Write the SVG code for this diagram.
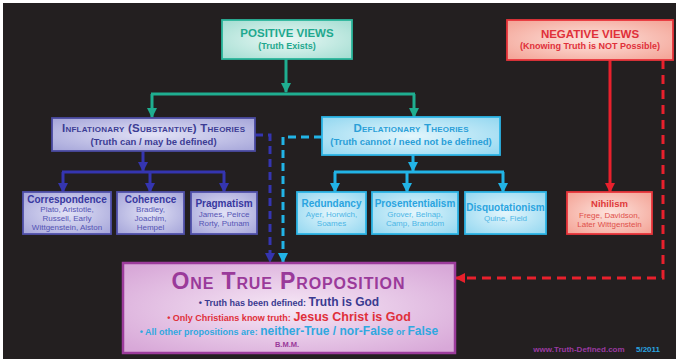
<svg xmlns="http://www.w3.org/2000/svg" width="679" height="362" viewBox="0 0 679 362">
<defs>
<style>
text{font-family:"Liberation Sans",Arial,sans-serif;font-weight:bold;text-anchor:middle}
.sc{font-variant:small-caps}
.nm{font-weight:normal;font-size:8px}
.t10{font-size:10px}
.box{stroke-width:1.8}
.conn{fill:none;stroke-width:3}
</style>
<radialGradient id="gTeal" cx="50%" cy="50%" r="65%"><stop offset="0" stop-color="#eaf8f5"/><stop offset="1" stop-color="#a7dfd4"/></radialGradient>
<radialGradient id="gRed" cx="50%" cy="50%" r="65%"><stop offset="0" stop-color="#fde3dd"/><stop offset="1" stop-color="#f4a699"/></radialGradient>
<radialGradient id="gBlue" cx="50%" cy="50%" r="65%"><stop offset="0" stop-color="#e2e2f6"/><stop offset="1" stop-color="#a9a9db"/></radialGradient>
<radialGradient id="gCyan" cx="50%" cy="50%" r="65%"><stop offset="0" stop-color="#e4f6fc"/><stop offset="1" stop-color="#98d9f1"/></radialGradient>
<radialGradient id="gPink" cx="50%" cy="50%" r="65%"><stop offset="0" stop-color="#f6e8f6"/><stop offset="1" stop-color="#d8a8d8"/></radialGradient>
<marker id="aTeal" markerUnits="userSpaceOnUse" markerWidth="10" markerHeight="10" viewBox="0 0 10 10" refX="9" refY="5" orient="auto"><path d="M0,0L10,5L0,10z" fill="#1fae90"/></marker>
<marker id="aBlue" markerUnits="userSpaceOnUse" markerWidth="10" markerHeight="10" viewBox="0 0 10 10" refX="9" refY="5" orient="auto"><path d="M0,0L10,5L0,10z" fill="#3535b0"/></marker>
<marker id="aCyan" markerUnits="userSpaceOnUse" markerWidth="10" markerHeight="10" viewBox="0 0 10 10" refX="9" refY="5" orient="auto"><path d="M0,0L10,5L0,10z" fill="#22b4e6"/></marker>
<marker id="aRed" markerUnits="userSpaceOnUse" markerWidth="10" markerHeight="10" viewBox="0 0 10 10" refX="9" refY="5" orient="auto"><path d="M0,0L10,5L0,10z" fill="#e8202c"/></marker>
</defs>
<rect x="0" y="0" width="679" height="362" fill="#ffffff"/>
<rect x="3" y="3" width="673" height="356" fill="#231f20"/>

<g id="connectors">
<g stroke="#1fae90" class="conn">
<path d="M286,59V92" marker-end="url(#aTeal)"/>
<path d="M151,94H415"/>
<path d="M152,94V117" marker-end="url(#aTeal)"/>
<path d="M414,94V117" marker-end="url(#aTeal)"/>
</g>
<g stroke="#3535b0" class="conn">
<path d="M143,151V171" marker-end="url(#aBlue)"/>
<path d="M62,172H225"/>
<path d="M63,172V192" marker-end="url(#aBlue)"/>
<path d="M150,172V192" marker-end="url(#aBlue)"/>
<path d="M224,172V192" marker-end="url(#aBlue)"/>
<path d="M255,135H270V262" stroke-dasharray="8,5" marker-end="url(#aBlue)"/>
</g>
<g stroke="#22b4e6" class="conn">
<path d="M413,155V171" marker-end="url(#aCyan)"/>
<path d="M334,172H504"/>
<path d="M335,172V192" marker-end="url(#aCyan)"/>
<path d="M407,172V192" marker-end="url(#aCyan)"/>
<path d="M503,172V192" marker-end="url(#aCyan)"/>
<path d="M322,137H283V262" stroke-dasharray="8,5" marker-end="url(#aCyan)"/>
</g>
<g stroke="#e8202c" class="conn">
<path d="M610,60V192" marker-end="url(#aRed)"/>
<path d="M663,60V278H456" stroke-dasharray="9,6" marker-end="url(#aRed)"/>
</g>
</g>

<g id="positive">
<rect x="222" y="20" width="130" height="39" fill="url(#gTeal)" stroke="#2ab59b" class="box"/>
<text x="287" y="37" font-size="11.5" fill="#1fa88e">POSITIVE VIEWS</text>
<text x="287" y="49" font-size="9" fill="#1fa88e">(Truth Exists)</text>
</g>

<g id="negative">
<rect x="507" y="20" width="166" height="40" fill="url(#gRed)" stroke="#e8343a" class="box"/>
<text x="590" y="38" font-size="11.5" fill="#e0303a">NEGATIVE VIEWS</text>
<text x="590" y="49" font-size="9" fill="#e0303a">(Knowing Truth is NOT Possible)</text>
</g>

<g id="inflationary">
<rect x="52" y="118" width="203" height="33" fill="url(#gBlue)" stroke="#4a4aa0" class="box"/>
<text x="153.5" y="132" font-size="11.5" class="sc" fill="#3c3c94" textLength="183">Inflationary (Substantive) Theories</text>
<text x="153.5" y="145" font-size="9.5" fill="#3c3c94">(Truth can / may be defined)</text>
</g>

<g id="deflationary">
<rect x="322" y="117" width="178" height="38" fill="url(#gCyan)" stroke="#2cb4e6" class="box"/>
<text x="411" y="132" font-size="11.5" class="sc" fill="#2a9fd8" textLength="115">Deflationary Theories</text>
<text x="411" y="145" font-size="9.5" fill="#2a9fd8">(Truth cannot / need not be defined)</text>
</g>

<g id="correspondence">
<rect x="23" y="192" width="88" height="42" fill="url(#gBlue)" stroke="#5050aa" class="box"/>
<text x="67" y="203" class="t10" fill="#3838a0">Correspondence</text>
<text x="67" y="212" class="nm" fill="#5454b4">Plato, Aristotle,</text>
<text x="67" y="221" class="nm" fill="#5454b4">Russell, Early</text>
<text x="67" y="230" class="nm" fill="#5454b4">Wittgenstein, Alston</text>
</g>

<g id="coherence">
<rect x="117" y="192" width="67" height="42" fill="url(#gBlue)" stroke="#5050aa" class="box"/>
<text x="150.5" y="203" class="t10" fill="#3838a0">Coherence</text>
<text x="150.5" y="212" class="nm" fill="#5454b4">Bradley,</text>
<text x="150.5" y="221" class="nm" fill="#5454b4">Joachim,</text>
<text x="150.5" y="230" class="nm" fill="#5454b4">Hempel</text>
</g>

<g id="pragmatism">
<rect x="191" y="192" width="66" height="42" fill="url(#gBlue)" stroke="#5050aa" class="box"/>
<text x="224" y="207" class="t10" fill="#3838a0">Pragmatism</text>
<text x="224" y="217" class="nm" fill="#5454b4">James, Peirce</text>
<text x="224" y="226" class="nm" fill="#5454b4">Rorty, Putnam</text>
</g>

<g id="redundancy">
<rect x="297" y="192" width="69" height="42" fill="url(#gCyan)" stroke="#2cb4e6" class="box"/>
<text x="331.5" y="207" class="t10" fill="#2aa4e0">Redundancy</text>
<text x="331.5" y="217" class="nm" fill="#4cb6e6">Ayer, Horwich,</text>
<text x="331.5" y="226" class="nm" fill="#4cb6e6">Soames</text>
</g>

<g id="prosententialism">
<rect x="372" y="192" width="86" height="42" fill="url(#gCyan)" stroke="#2cb4e6" class="box"/>
<text x="415" y="207" class="t10" fill="#2aa4e0">Prosententialism</text>
<text x="415" y="217" class="nm" fill="#4cb6e6">Grover, Belnap,</text>
<text x="415" y="226" class="nm" fill="#4cb6e6">Camp, Brandom</text>
</g>

<g id="disquotationism">
<rect x="465" y="192" width="81" height="42" fill="url(#gCyan)" stroke="#2cb4e6" class="box"/>
<text x="505.5" y="211" class="t10" fill="#2aa4e0">Disquotationism</text>
<text x="505.5" y="221" class="nm" fill="#4cb6e6">Quine, Field</text>
</g>

<g id="nihilism">
<rect x="567" y="192" width="85" height="42" fill="url(#gRed)" stroke="#e8343a" class="box"/>
<text x="609.5" y="207" font-size="9.5" fill="#e03a3a">Nihilism</text>
<text x="609.5" y="218" class="nm" fill="#e0504a">Frege, Davidson,</text>
<text x="609.5" y="227" class="nm" fill="#e0504a">Later Wittgenstein</text>
</g>

<g id="one-true-proposition">
<rect x="123" y="263" width="332" height="90" fill="url(#gPink)" stroke="#9c3c9c" stroke-width="2.5"/>
<text x="288" y="289" font-size="23" class="sc" fill="#9a3a9a" textLength="233">One True Proposition</text>
<text x="289" y="306" font-size="9" fill="#3a3a90">•  Truth has been defined: <tspan font-size="12">Truth is God</tspan></text>
<text x="289" y="321" font-size="9" fill="#e0303a">• Only Christians know truth: <tspan font-size="12.5">Jesus Christ is God</tspan></text>
<text x="289" y="335" font-size="9" fill="#30a8e0">• All other propositions are: <tspan font-size="12">neither-True / nor-False</tspan> or <tspan font-size="12">False</tspan></text>
<text x="287" y="347" font-size="7.5" fill="#9a3a9a">B.M.M.</text>
</g>

<g id="footer">
<text x="579" y="352" font-size="8" fill="#9a3aa0">www.Truth-Defined.com</text>
<text x="648" y="352" font-size="8" fill="#2aa4e0">5/2011</text>
</g>
</svg>
